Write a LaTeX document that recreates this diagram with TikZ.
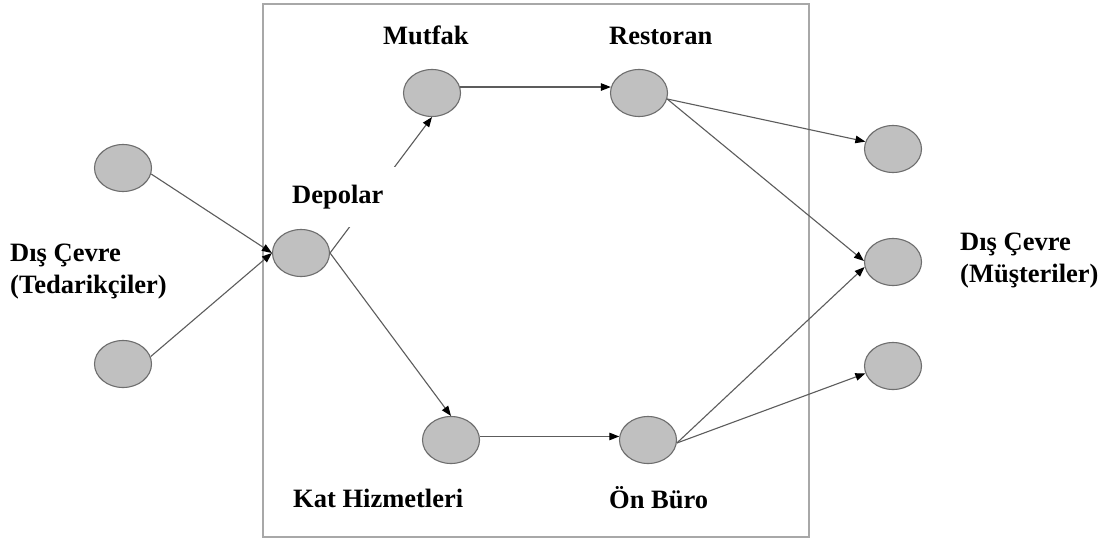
\documentclass[tikz,border=0pt]{standalone}
\usepackage{fontspec}
\setmainfont{Liberation Serif}
\usetikzlibrary{arrows.meta,shapes.geometric}

\definecolor{nodefill}{HTML}{C0C0C0}
\definecolor{nodeline}{HTML}{6E6E6E}
\definecolor{edgeline}{HTML}{5C5C5C}
\definecolor{frameline}{HTML}{A8A8A8}

\tikzset{
  unit/.style={ellipse, draw=nodeline, fill=nodefill, line width=1.1pt,
               minimum width=57pt, minimum height=47pt, inner sep=0pt},
  flow/.style={draw=edgeline, line width=1.1pt,
               -{Triangle[length=10pt,width=7.5pt,color=black,fill=black]}},
  lbl/.style={font=\fontsize{26.5}{32}\selectfont\bfseries, inner sep=0pt,
              anchor=base west, align=left},
}

\begin{document}
\begin{tikzpicture}[x=1pt,y=-1pt]
  % canvas
  \fill[white] (0,0) rectangle (1107,540);
  \useasboundingbox (0,0) rectangle (1107,540);

  % hotel boundary
  \draw[frameline, line width=2pt] (263,4) rectangle (809,537);

  % units
  \node[unit] (s1) at (123,168) {};
  \node[unit] (s2) at (123,364) {};
  \node[unit] (dep) at (301,253) {};
  \node[unit] (mut) at (432,93) {};
  \node[unit] (res) at (639,93) {};
  \node[unit] (kat) at (451,440) {};
  \node[unit] (onb) at (648,440) {};
  \node[unit] (c1) at (893,149) {};
  \node[unit] (c2) at (893,262) {};
  \node[unit] (c3) at (893,366) {};

  % flows
  \draw[flow] (s1.-12) -- (dep.west);
  \draw[flow] (s2.15) -- (dep.west);
  \draw[flow] (dep.east) -- (mut.south);
  \draw[flow] (dep.east) -- (kat.north);
  \draw[flow] (mut.12) -- (res.168);
  \draw[flow] (kat.7) -- (onb.173);
  \draw[flow] (res.-12) -- (c1.165);
  \draw[flow] (res.-12) -- (c2.178);
  \draw[flow] (onb.-6) -- (c2.190);
  \draw[flow] (onb.-6) -- (c3.195);

  % labels (multi-line labels are placed by the baseline of their last line)
  \node[lbl] (lmut) at (383,45) {Mutfak};
  \node[lbl] (lres) at (609,45) {Restoran};
  \node[lbl, fill=white, inner xsep=14pt, inner ysep=18pt] (ldep) at (278,203) {Depolar};
  \node[lbl] (lkat) at (293,507) {Kat Hizmetleri};
  \node[lbl] (lonb) at (609,508) {Ön Büro};
  \node[lbl] (lsup) at (10,293) {Dış Çevre\\(Tedarikçiler)};
  \node[lbl] (lcus) at (960,282) {Dış Çevre\\(Müşteriler)};
\end{tikzpicture}
\end{document}
